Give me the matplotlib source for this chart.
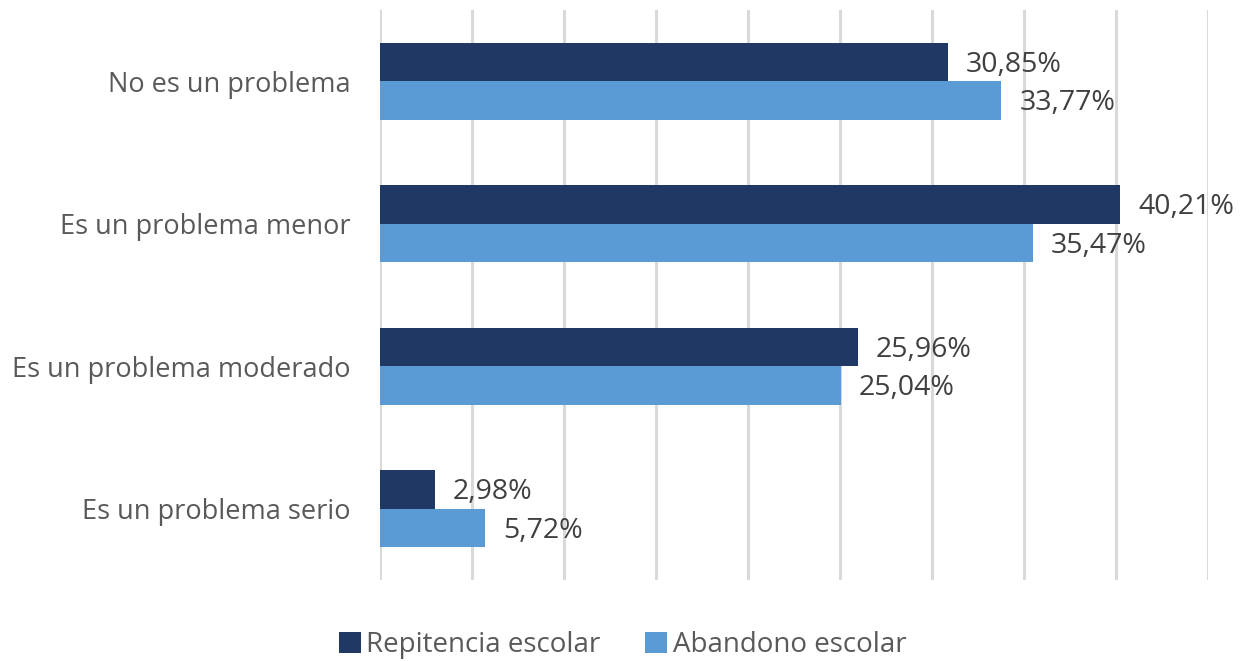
import numpy as np
import matplotlib.pyplot as plt

categorias = ['No es un problema', 'Es un problema menor', 'Es un problema moderado', 'Es un problema serio']
repitencia = [30.85, 40.21, 25.96, 2.98]
abandono = [33.77, 35.47, 25.04, 5.72]
series = ['Repitencia escolar', 'Abandono escolar']

plt.rcParams['font.family'] = ['Open Sans', 'DejaVu Sans']
texto = '#595959'

fig = plt.figure(figsize=(12.45, 6.61), dpi=100)
ax = fig.add_axes([0.3052, 0.1225, 0.6651, 0.8625])

y = np.arange(len(categorias))
h = 0.27
b1 = ax.barh(y - h / 2, repitencia, height=h, color='#203864', label=series[0])
b2 = ax.barh(y + h / 2, abandono, height=h, color='#5B9BD5', label=series[1])

for bars, vals in [(b1, repitencia), (b2, abandono)]:
    for bar, v in zip(bars, vals):
        ax.annotate(f'{v:.2f}%'.replace('.', ','),
                    (bar.get_width(), bar.get_y() + bar.get_height() / 2),
                    xytext=(13, -2), textcoords='offset points',
                    va='center', ha='left', fontsize=20.5, color='#404040')

ax.set_xlim(0, 45)
ax.set_ylim(len(categorias) - 0.5, -0.5)
ax.set_xticks(np.arange(0, 46, 5))
ax.set_xticklabels([])
ax.set_yticks(y)
ax.set_yticklabels(categorias, fontsize=19.5, color=texto)
ax.tick_params(axis='y', length=0, pad=21)
ax.tick_params(axis='x', length=0)
ax.grid(axis='x', color='#D9D9D9', linewidth=2.2)
ax.set_axisbelow(True)
for s in ax.spines.values():
    s.set_visible(False)

fig.legend(handles=[b1, b2], labels=series, loc='lower center', ncol=2,
           bbox_to_anchor=(0.5, -0.035), frameon=False, fontsize=20,
           labelcolor=texto, handlelength=0.8, handleheight=0.8,
           handletextpad=0.2, columnspacing=1.6)

fig.savefig('out.png', dpi=100)
